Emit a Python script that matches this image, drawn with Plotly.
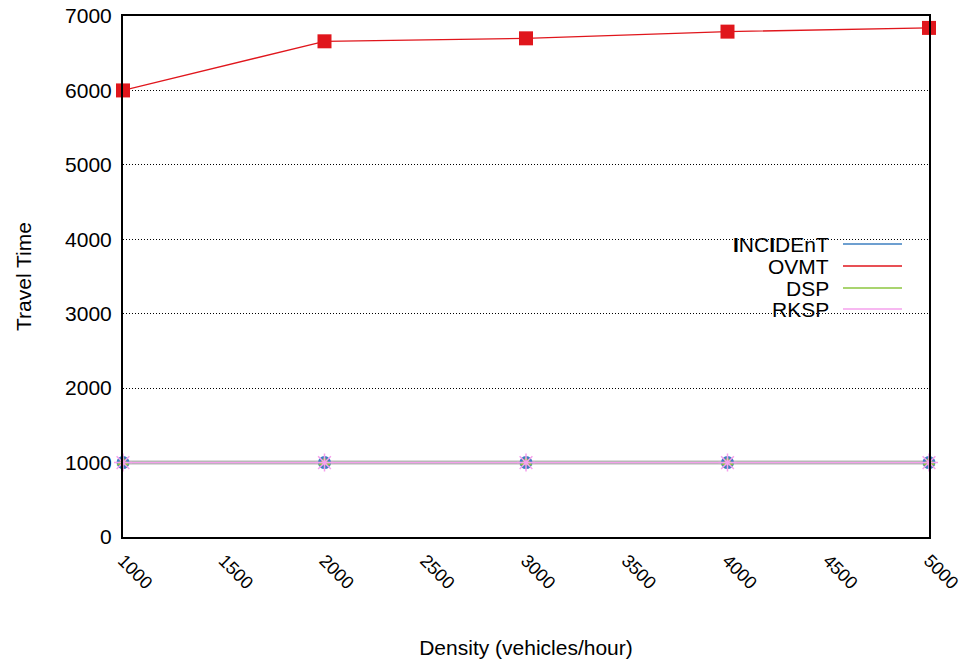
import plotly.graph_objects as go

density = [1000, 2000, 3000, 4000, 5000]
incident = [1000, 1000, 1000, 1000, 1000]
ovmt = [6000, 6660, 6700, 6790, 6840]
dsp = [1000, 1000, 1000, 1000, 1000]
rksp = [1000, 1000, 1000, 1000, 1000]
series_names = ["<b>I</b>NC<b>I</b>DEnT", "OVMT", "DSP", "RKSP"]
series_colors = ["#3d7fc0", "#e0161c", "#8cc63f", "#f5a0ec"]

FONT = "Liberation Sans, Arial, Helvetica, sans-serif"

fig = go.Figure()
# gray underlay seen behind the flat lines
fig.add_trace(go.Scatter(x=density, y=incident, mode="lines",
                         line=dict(color="#b8b8b8", width=4), showlegend=False,
                         hoverinfo="skip", cliponaxis=False))
fig.add_trace(go.Scatter(x=density, y=incident, mode="lines+markers", name="INCIDEnT",
                         line=dict(color=series_colors[0], width=1),
                         marker=dict(symbol="circle", size=13, color=series_colors[0]),
                         cliponaxis=False))
fig.add_trace(go.Scatter(x=density, y=ovmt, mode="lines+markers", name="OVMT",
                         line=dict(color=series_colors[1], width=1.3),
                         marker=dict(symbol="square", size=14, color=series_colors[1]),
                         cliponaxis=False))
fig.add_trace(go.Scatter(x=density, y=dsp, mode="lines+markers", name="DSP",
                         line=dict(color=series_colors[2], width=1),
                         marker=dict(symbol="triangle-up", size=11, color=series_colors[2]),
                         cliponaxis=False))
fig.add_trace(go.Scatter(x=density, y=rksp, mode="lines+markers", name="RKSP",
                         line=dict(color=series_colors[3], width=1.2),
                         marker=dict(symbol="asterisk-open", size=15,
                                     line=dict(color="#e87de0", width=1.5)),
                         cliponaxis=False))

W, H = 971, 659
# target plot area in screen pixels: x 123..929, y 16..537 (body margin removed)
L = 123
T = 16
R = W - 929
B = H - 537
pw, ph = W - L - R, H - T - B

def px(xs):
    return (xs - L) / pw

def py(ys):
    return (H - B - ys) / ph

legend_y = [244, 266, 288, 309]
annotations = []
shapes = []
for name, color, yy in zip(series_names, series_colors, legend_y):
    annotations.append(dict(x=px(831), y=py(yy), xref="paper", yref="paper",
                            text=name, showarrow=False, xanchor="right", yanchor="middle",
                            font=dict(family=FONT, size=21, color="black")))
    shapes.append(dict(type="line", xref="paper", yref="paper",
                       x0=px(843), x1=px(902), y0=py(yy), y1=py(yy),
                       line=dict(color=color, width=1.5)))

fig.update_layout(
    width=W, height=H,
    margin=dict(l=L, r=R, t=T, b=B, autoexpand=False),
    paper_bgcolor="white", plot_bgcolor="white",
    showlegend=False,
    font=dict(family=FONT, size=21, color="black"),
    annotations=annotations,
    shapes=shapes,
    xaxis=dict(range=[1000, 5000], tickmode="array",
               tickvals=[1000, 1500, 2000, 2500, 3000, 3500, 4000, 4500, 5000],
               ticktext=["1000", "1500", "2000", "2500", "3000", "3500", "4000", "4500", "5000"],
               tickangle=45, tickfont=dict(size=18), showgrid=False, zeroline=False,
               showline=True, linecolor="black", linewidth=2, mirror=True,
               ticks="", ticklabelstandoff=4, ticklabeloverflow="allow",
               title=dict(text="Density (vehicles/hour)", standoff=48,
                          font=dict(size=21))),
    yaxis=dict(range=[0, 7000], tickmode="array",
               tickvals=[0, 1000, 2000, 3000, 4000, 5000, 6000, 7000],
               tickfont=dict(size=21), showgrid=True, gridcolor="black", griddash="1px,2px",
               gridwidth=1, zeroline=False,
               showline=True, linecolor="black", linewidth=2, mirror=True,
               ticks="", ticklabelstandoff=5, ticklabeloverflow="allow",
               title=dict(text="Travel Time", standoff=28, font=dict(size=21))),
)

fig.write_html("out.html", config={"displayModeBar": False},
               post_script="document.body.style.margin='0';")
